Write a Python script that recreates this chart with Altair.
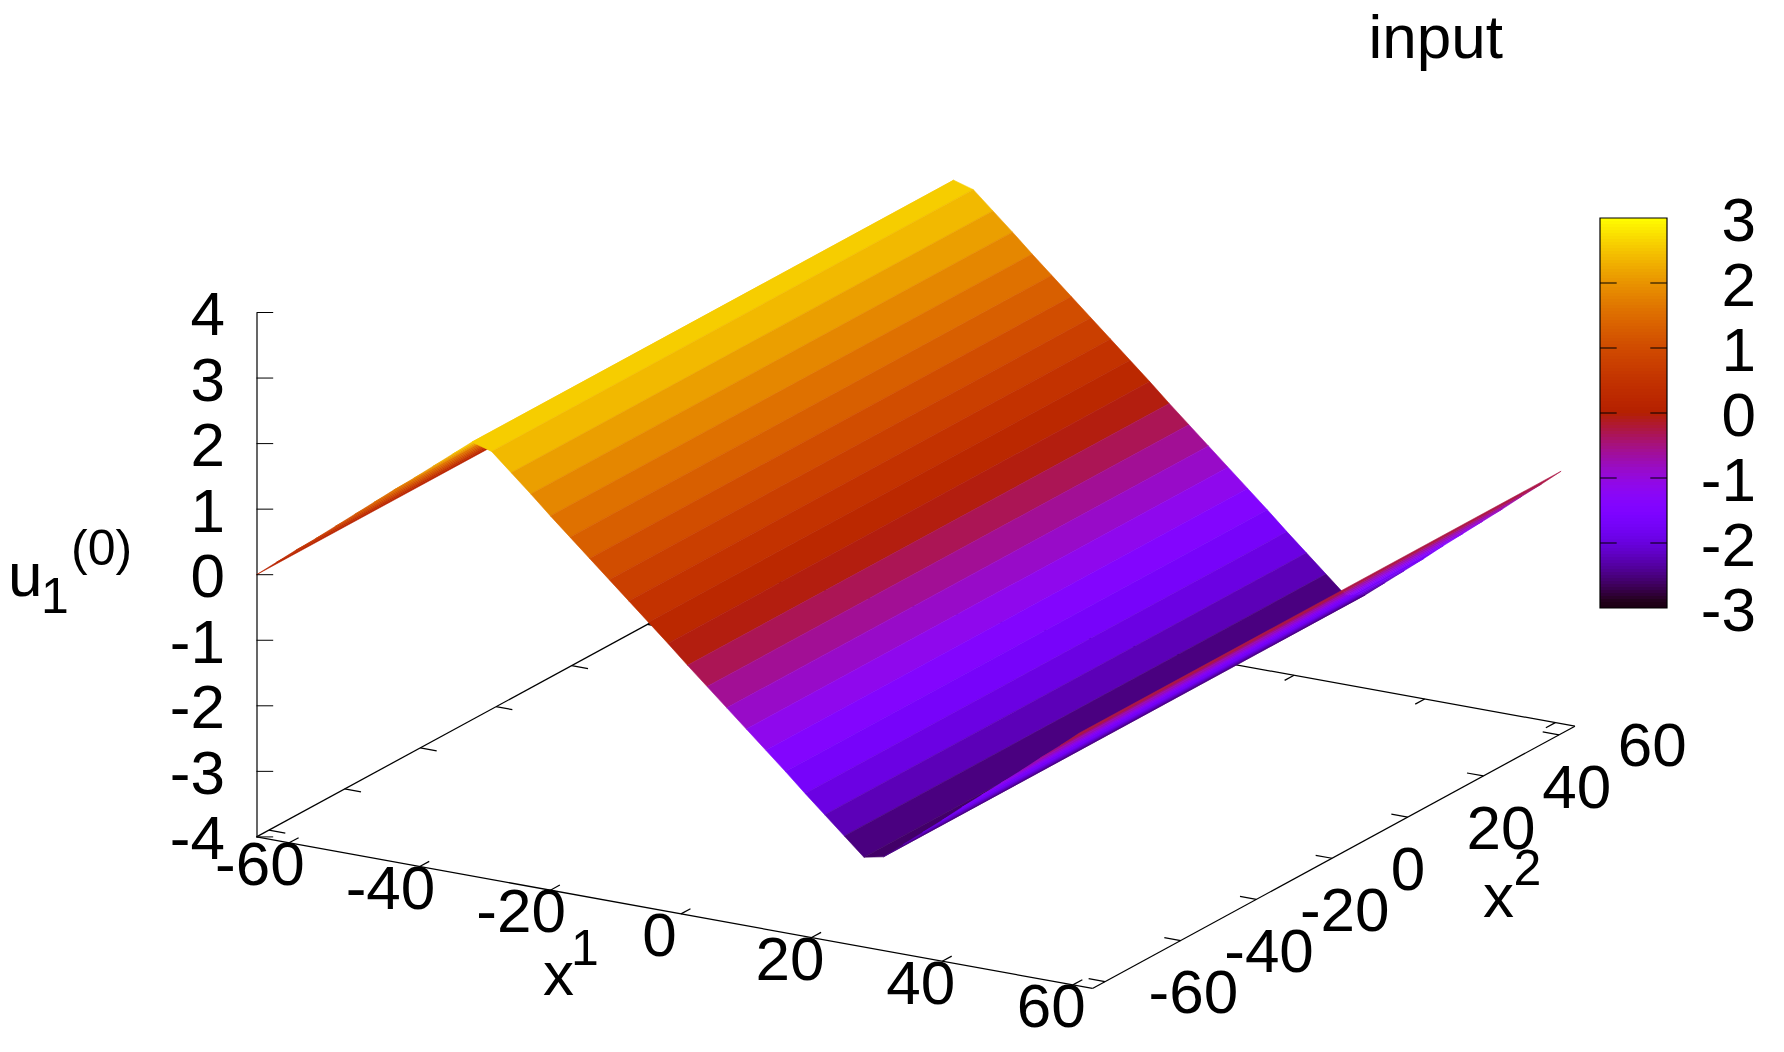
import math
import altair as alt
import pandas as pd

# ---- values ----
X1_GRID = [-65, -62, -59, -56, -53, -50, -47, -44, -41, -38, -35, -32, -29, -26, -23, -20, -17, -14, -11, -8, -5,
           -2, 1, 4, 7, 10, 13, 16, 19, 22, 25, 28, 31, 34, 37, 40, 43, 46, 49, 52, 55, 58, 61]
U_VALUES = [0.0, 0.24, 0.48, 0.71, 0.95, 1.19, 1.43, 1.67, 1.90, 2.14, 2.38, 2.62,
            2.53, 2.26, 1.99, 1.71, 1.44, 1.17, 0.90, 0.63, 0.36, 0.09,
            -0.19, -0.46, -0.73, -1.00, -1.27, -1.54, -1.82, -2.09, -2.36, -2.63,
            -2.57, -2.33, -2.09, -1.85, -1.60, -1.36, -1.12, -0.88, -0.63, -0.39, -0.14]
X2_ENDS = [-63.3, 64.0]
X1_RANGE = [-65.0, 63.0]
X2_RANGE = [-63.3, 64.2]
Z_RANGE = [-4, 4]
CB_RANGE = [-3, 3]
X_TICKS = [-60, -40, -20, 0, 20, 40, 60]
Z_TICKS = [-4, -3, -2, -1, 0, 1, 2, 3, 4]
CB_TICKS = [-3, -2, -1, 0, 1, 2, 3]
TITLE = "input"

# ---- view of the box (gnuplot-like 3D projection) ----
W, H = 1764, 1034
OX, OY = 8, 8
AX, AY = 256.5, 836.9
X1_V = (6.531, 1.184)
X2_V = (3.784, -2.057)
Z_V = 65.55
TICK_LEN = 2.5
FONT = "Liberation Sans"
BIG, SMALL = 62, 50
CB_X = (1600.0, 1667.0)
CB_Y = (608.0, 218.0)
LINE = 1.25


def proj(x1, x2, z):
    u, v = x1 - X1_RANGE[0], x2 - X2_RANGE[0]
    return (AX + u * X1_V[0] + v * X2_V[0],
            AY + u * X1_V[1] + v * X2_V[1] - (z - Z_RANGE[0]) * Z_V)


def palette(t):
    """gnuplot rgbformulae 7,5,15"""
    r, g, b = math.sqrt(t), t ** 3, max(0.0, math.sin(2 * math.pi * t))
    return "#%02x%02x%02x" % (round(r * 255), round(g * 255), round(b * 255))


stops = [i / 64 for i in range(65)]
color_scale = alt.Scale(domain=[CB_RANGE[0] + t * 6 for t in stops], range=[palette(t) for t in stops], clamp=True)
x_scale = alt.Scale(domain=[OX, OX + W], range=[0, W], nice=False, zero=False)
y_scale = alt.Scale(domain=[OY + H, OY], range=[H, 0], nice=False, zero=False)
X = lambda f="x": alt.X(f"{f}:Q", scale=x_scale, axis=None)
Y = lambda f="y": alt.Y(f"{f}:Q", scale=y_scale, axis=None)

# surface strips, far to near
rows = []
for i in range(len(X1_GRID) - 1):
    m = (U_VALUES[i] + U_VALUES[i + 1]) / 2
    a, b = X1_GRID[i], X1_GRID[i + 1]
    za, zb = U_VALUES[i], U_VALUES[i + 1]
    for k, (p, q, r) in enumerate([(a, X2_ENDS[0], za), (b, X2_ENDS[0], zb), (b, X2_ENDS[1], zb),
                                   (a, X2_ENDS[1], za), (a, X2_ENDS[0], za)]):
        px, py = proj(p, q, r)
        rows.append({"strip": f"s{i:03d}", "seq": k, "x": px, "y": py, "u": m})
surface = alt.Chart(pd.DataFrame(rows)).mark_line(strokeWidth=0.6, clip=False, interpolate="linear").encode(
    x=X(), y=Y(), detail="strip:N", order=alt.Order("seq:Q"),
    fill=alt.Fill("u:Q", scale=color_scale, legend=None),
    stroke=alt.Stroke("u:Q", scale=color_scale, legend=None),
)

# base of the box with its ticks
z0 = Z_RANGE[0]
segs = []
def seg(a, b):
    pa, pb = proj(*a, z0), proj(*b, z0)
    segs.append({"x": pa[0], "y": pa[1], "x2": pb[0], "y2": pb[1]})
x1a, x1b = X1_RANGE
x2a, x2b = X2_RANGE
seg((x1a, x2a), (x1b, x2a)); seg((x1b, x2a), (x1b, x2b)); seg((x1b, x2b), (x1a, x2b)); seg((x1a, x2b), (x1a, x2a))
for t in X_TICKS:
    seg((t, x2a), (t, x2a + TICK_LEN)); seg((t, x2b), (t, x2b - TICK_LEN))
    seg((x1b, t), (x1b - TICK_LEN, t)); seg((x1a, t), (x1a + TICK_LEN, t))
base = alt.Chart(pd.DataFrame(segs)).mark_rule(color="black", strokeWidth=LINE).encode(
    x=X(), y=Y(), x2="x2:Q", y2="y2:Q")

# text on the two slanted axes
x1_lab = []
for t in X_TICKS:
    s = str(t)
    px, py = proj(t, x2a, z0)
    x1_lab.append({"x": px - (29.3 if t < 0 else 21.6), "y": py + 42.3, "t": s})
x1_text = alt.Chart(pd.DataFrame(x1_lab)).mark_text(font=FONT, fontSize=BIG, align="center", baseline="alphabetic", color="black").encode(
    x=X(), y=Y(), text="t:N")
x2_lab = []
for t in X_TICKS:
    s = str(t)
    px, py = proj(x1b, t, z0)
    x2_lab.append({"x": px + (43.6 if t < 0 else 58.8), "y": py + 31.6, "t": s})
x2_text = alt.Chart(pd.DataFrame(x2_lab)).mark_text(font=FONT, fontSize=BIG, align="left", baseline="alphabetic", color="black").encode(
    x=X(), y=Y(), text="t:N")

big = pd.DataFrame([
    {"x": 1368.5, "y": 58, "t": TITLE},
    {"x": 543, "y": 995, "t": "x"},
    {"x": 1483, "y": 917, "t": "x"},
    {"x": 8, "y": 596, "t": "u"},
])
big_text = alt.Chart(big).mark_text(font=FONT, fontSize=BIG, align="left", baseline="alphabetic", color="black").encode(
    x=X(), y=Y(), text="t:N")
small = pd.DataFrame([
    {"x": 571, "y": 965, "t": "1"},
    {"x": 1513.5, "y": 885, "t": "2"},
    {"x": 41, "y": 613, "t": "1"},
    {"x": 71, "y": 565, "t": "(0)"},
])
small_text = alt.Chart(small).mark_text(font=FONT, fontSize=SMALL, align="left", baseline="alphabetic", color="black").encode(
    x=X(), y=Y(), text="t:N")

# z axis: a real axis on its own scale
z_top = proj(x1a, x2a, Z_RANGE[1])[1]
z_scale = alt.Scale(domain=Z_RANGE, range=[AY - OY, z_top - OY], nice=False, zero=False)
z_df = pd.DataFrame({"z": Z_TICKS})
z_axis = alt.Chart(z_df).mark_rule(color="black", strokeWidth=1).encode(
    y=alt.Y("z:Q", scale=z_scale, axis=alt.Axis(
        orient="left", offset=-(AX - OX), values=Z_TICKS, title=None, grid=False, ticks=False,
        domainColor="black", domainWidth=1.2, labelFont=FONT, labelFontSize=BIG, labelColor="black",
        labelPadding=32, labelOverlap=False, labelFlush=False, labelBaseline="middle", labelOffset=3,
        labelExpr="'' + datum.value")),
    x=alt.value(AX - OX), x2=alt.value(AX - OX + 16.7),
)

# colour box with its own axis
cb_scale = alt.Scale(domain=CB_RANGE, range=[CB_Y[0] - OY, CB_Y[1] - OY], nice=False, zero=False)
n = 130
cells = pd.DataFrame([{"lo": -3 + 6 * i / n, "hi": -3 + 6 * (i + 1) / n, "v": -3 + 6 * (i + 0.5) / n} for i in range(n)])
cb_cells = alt.Chart(cells).mark_rect().encode(
    y=alt.Y("lo:Q", scale=cb_scale, axis=None), y2="hi:Q",
    x=alt.value(CB_X[0] - OX), x2=alt.value(CB_X[1] - OX),
    fill=alt.Fill("v:Q", scale=color_scale, legend=None),
)
cb_df = pd.DataFrame({"v": CB_TICKS})
cb_axis = alt.Chart(cb_df).mark_rule(color="black", strokeWidth=0).encode(
    y=alt.Y("v:Q", scale=cb_scale, axis=alt.Axis(
        orient="right", offset=-(W - (CB_X[1] - OX)), values=CB_TICKS, title=None, grid=False, ticks=False, domain=False,
        labelFont=FONT, labelFontSize=BIG, labelColor="black", labelAlign="right",
        labelPadding=88.5, labelOverlap=False, labelFlush=False, labelBaseline="middle", labelOffset=3,
        labelExpr="'' + datum.value")),
    x=alt.value(CB_X[0] - OX),
)
inner = CB_TICKS[1:-1]
cb_tick_l = alt.Chart(pd.DataFrame({"v": inner})).mark_rule(color="black", strokeWidth=1).encode(
    y=alt.Y("v:Q", scale=cb_scale, axis=None),
    x=alt.value(CB_X[0] - OX), x2=alt.value(CB_X[0] - OX + 16.7))
cb_tick_r = alt.Chart(pd.DataFrame({"v": inner})).mark_rule(color="black", strokeWidth=1).encode(
    y=alt.Y("v:Q", scale=cb_scale, axis=None),
    x=alt.value(CB_X[1] - OX - 16.7), x2=alt.value(CB_X[1] - OX))
cb_box = alt.Chart(pd.DataFrame({"a": [CB_RANGE[0]], "b": [CB_RANGE[1]]})).mark_rect(
    filled=False, stroke="black", strokeWidth=1.2).encode(
    y=alt.Y("a:Q", scale=cb_scale, axis=None), y2="b:Q",
    x=alt.value(CB_X[0] - OX), x2=alt.value(CB_X[1] - OX))

chart = alt.layer(
    base, surface, z_axis, x1_text, x2_text, big_text, small_text,
    cb_cells, cb_tick_l, cb_tick_r, cb_box, cb_axis,
).resolve_scale(y="independent").properties(
    width=W, height=H, padding=0, background="white", autosize=alt.AutoSizeParams(type="none"),
).configure_view(stroke="transparent", strokeWidth=0)

chart.save("out.html", embed_options={"renderer": "svg", "actions": False})
